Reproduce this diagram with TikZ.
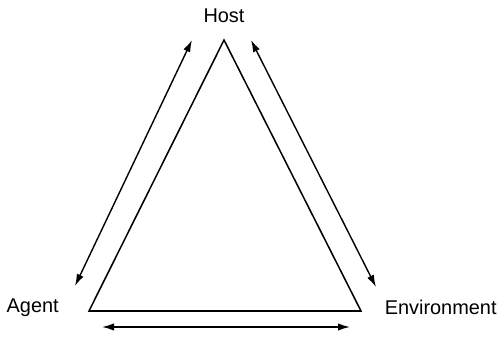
\documentclass[tikz,border=0pt]{standalone}
\usepackage{fontspec}
\setmainfont{Liberation Sans}
\usepackage{tikz}
\usetikzlibrary{arrows.meta,positioning}
\tikzset{
  etiqueta/.style={font=\fontsize{17}{20}\selectfont,inner sep=0pt},
  lado/.style={line width=1.3pt,line join=miter},
  flecha/.style={{Latex[length=3.6mm,width=2.2mm]}-{Latex[length=3.6mm,width=2.2mm]},line width=1.2pt},
}
\begin{document}
\begin{tikzpicture}
  \useasboundingbox (0,0) rectangle (14.97,10.2);
  % triangulo
  \coordinate (vh) at (6.72,9.0);
  \coordinate (va) at (2.67,0.87);
  \coordinate (ve) at (10.83,0.87);
  \draw[lado] (vh) -- (va) -- (ve) -- cycle;
  % etiquetas
  \node[etiqueta] (host) at (6.72,9.72) {Host};
  \node[etiqueta] (agent) at (0.98,0.98) {Agent};
  \node[etiqueta] (env) at (13.22,0.98) {Environment};
  % extremos de las flechas
  \coordinate (ha) at (5.76,9.0);
  \coordinate (ah) at (2.25,1.62);
  \coordinate (he) at (7.53,9.0);
  \coordinate (eh) at (11.28,1.59);
  \coordinate (ae) at (3.06,0.39);
  \coordinate (ea) at (10.5,0.39);
  \draw[flecha] (ha) -- (ah);
  \draw[flecha] (he) -- (eh);
  \draw[flecha] (ae) -- (ea);
\end{tikzpicture}
\end{document}
